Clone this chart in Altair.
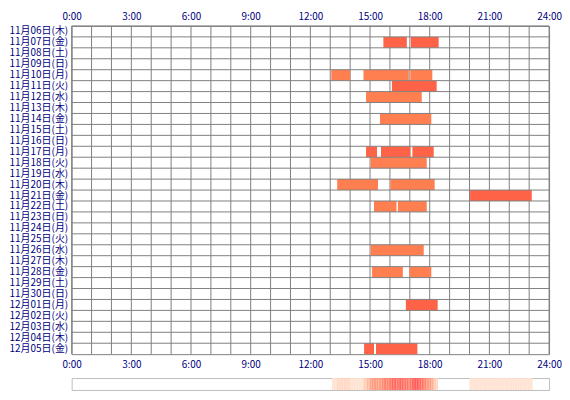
import altair as alt
import pandas as pd
import numpy as np

days = ["11月06日(木)", "11月07日(金)", "11月08日(土)", "11月09日(日)", "11月10日(月)",
        "11月11日(火)", "11月12日(水)", "11月13日(木)", "11月14日(金)", "11月15日(土)",
        "11月16日(日)", "11月17日(月)", "11月18日(火)", "11月19日(水)", "11月20日(木)",
        "11月21日(金)", "11月22日(土)", "11月23日(日)", "11月24日(月)", "11月25日(火)",
        "11月26日(水)", "11月27日(木)", "11月28日(金)", "11月29日(土)", "11月30日(日)",
        "12月01日(月)", "12月02日(火)", "12月03日(水)", "12月04日(木)", "12月05日(金)"]

bar_day = ["11月07日(金)", "11月07日(金)",
           "11月10日(月)", "11月10日(月)", "11月10日(月)",
           "11月11日(火)", "11月12日(水)", "11月14日(金)",
           "11月17日(月)", "11月17日(月)", "11月17日(月)",
           "11月18日(火)", "11月20日(木)", "11月20日(木)",
           "11月21日(金)", "11月22日(土)", "11月22日(土)",
           "11月26日(水)", "11月28日(金)", "11月28日(金)",
           "12月01日(月)", "12月05日(金)", "12月05日(金)"]
bar_start = [15.67, 17.05, 13.05, 14.67, 17.03, 16.10, 14.80, 15.50, 14.80, 15.55, 17.13,
             15.03, 13.35, 16.02, 20.03, 15.20, 16.40, 15.03, 15.10, 16.98, 16.80, 14.70, 15.30]
bar_end = [16.85, 18.45, 14.00, 16.95, 18.13, 18.35, 17.60, 18.08, 15.35, 17.03, 18.20,
           17.85, 15.40, 18.25, 23.13, 16.33, 17.85, 17.70, 16.65, 18.08, 18.40, 15.20, 17.38]
bar_kind = ["dark", "dark", "light", "light", "light", "dark", "light", "light",
            "dark", "dark", "dark", "light", "light", "light", "dark", "light", "light",
            "light", "light", "light", "dark", "dark", "dark"]

hours = list(range(25))
hour_ticks = [0, 3, 6, 9, 12, 15, 18, 21, 24]

bars = pd.DataFrame({"day": bar_day, "start": bar_start, "end": bar_end, "kind": bar_kind})
grid_days = pd.DataFrame({"day": days})
grid_hours = pd.DataFrame({"h": hours})

# activity density strip, derived from the bars
step = 1 / 12
edges = np.arange(0, 24, step)
mids = edges + step / 2
counts = [int(((bars["start"] <= m) & (bars["end"] > m)).sum()) for m in mids]
strip = pd.DataFrame({"a": edges, "b": edges + step, "n": counts})
strip = strip[strip["n"] > 0]

FONT = "Noto Sans CJK JP"
NAVY = "#000080"
GRID = "#808080"

xscale = alt.Scale(domain=[0, 24], nice=False, zero=False)
yscale = alt.Scale(domain=days, paddingInner=0, paddingOuter=0)

yaxis = alt.Axis(title=None, ticks=False, domain=False, labelFont=FONT, labelFontSize=10,
                 labelColor=NAVY, labelPadding=4, minExtent=62, maxExtent=62, grid=False)

def xaxis(orient, pad):
    return alt.Axis(orient=orient, values=hour_ticks, labelExpr="datum.value + ':00'",
                    title=None, ticks=False, domain=False, grid=False, labelFont=FONT,
                    labelFontSize=10, labelColor=NAVY, labelPadding=pad, labelFlush=False,
                    labelOverlap=False, minExtent=16, maxExtent=16)

vlines = alt.Chart(grid_hours).mark_rule(color=GRID, strokeWidth=1).encode(
    x=alt.X("h:Q", scale=xscale, axis=xaxis("bottom", 5))
)
rects = alt.Chart(bars).mark_rect().encode(
    x=alt.X("start:Q", scale=xscale, axis=xaxis("top", 4)),
    x2="end:Q",
    y=alt.Y("day:N", scale=yscale, axis=yaxis, sort=days),
    color=alt.Color("kind:N", scale=alt.Scale(domain=["dark", "light"],
                                               range=["#FF6347", "#FF7F50"]), legend=None),
)
hlines = alt.Chart(grid_days).mark_rule(color=GRID, strokeWidth=1).encode(
    y=alt.Y("day:N", scale=yscale, axis=yaxis, sort=days, bandPosition=0)
)

top = alt.layer(vlines, rects, hlines).resolve_axis(x="independent").properties(
    width=480, height=330, view=alt.ViewBackground(stroke=GRID, strokeWidth=1)
)

strip_chart = alt.Chart(strip).mark_rect().encode(
    x=alt.X("a:Q", scale=xscale, axis=None),
    x2="b:Q",
    color=alt.Color("n:Q", scale=alt.Scale(domain=[1, 13], range=["#FFE2D2", "#FF5A5A"]),
                    legend=None),
).properties(width=480, height=12, view=alt.ViewBackground(stroke="#BDBDBD", strokeWidth=1))

chart = alt.vconcat(top, strip_chart, spacing=6).resolve_scale(
    color="independent", x="independent"
).properties(
    padding={"left": 0, "top": 0, "right": 0, "bottom": 0},
    background="white",
)

chart.save("out.html", embed_options={"renderer": "svg", "actions": False})
